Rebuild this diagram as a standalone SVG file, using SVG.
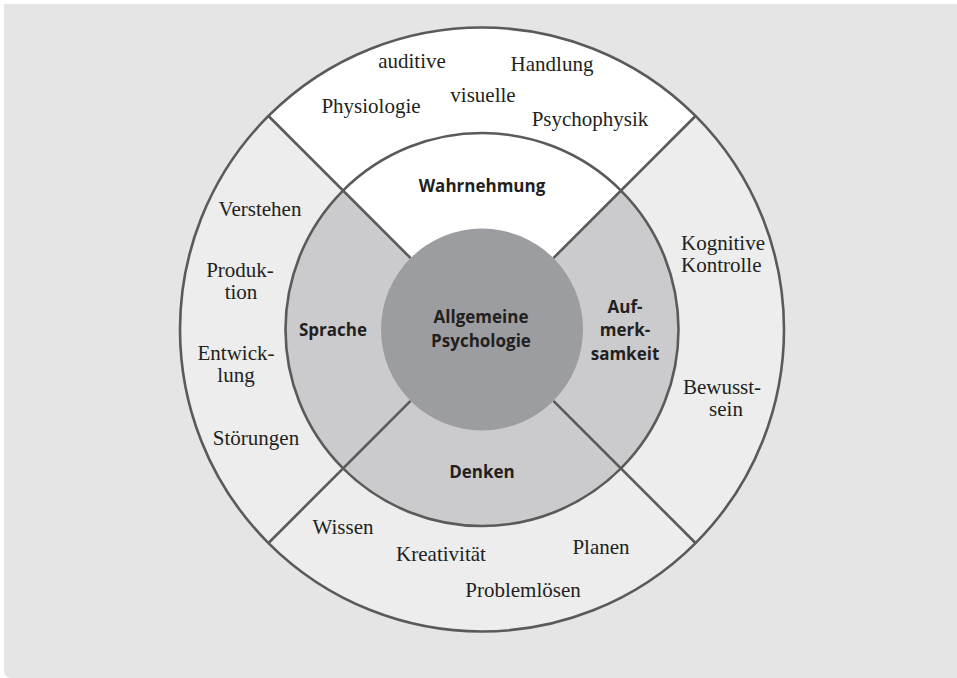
<svg xmlns="http://www.w3.org/2000/svg" width="957" height="678" viewBox="0 0 957 678">
<style>
.s{font-family:"Liberation Serif","Times New Roman",serif;font-size:21px;fill:#231f20;text-anchor:middle}
.sl{text-anchor:start}
.b{font-family:"Open Sans","Noto Sans",sans-serif;font-weight:700;font-size:17px;fill:#231f20;text-anchor:middle}
.ln{stroke:#5a5a5a;stroke-width:2.6;fill:none}
</style>
<rect x="0" y="0" width="957" height="678" fill="#ffffff"/>
<path d="M4 4 H957 V678 H12 Q4 678 4 670 Z" fill="#e5e5e5"/>
<g id="outer-ring">
<circle cx="482" cy="329.5" r="302" fill="#ecedec"/>
</g>
<g id="outer-top">
<path d="M482 329.5 L268.5 116 A302 302 0 0 1 695.5 116 Z" fill="#ffffff"/>
<text class="s" x="412" y="68">auditive</text>
<text class="s" x="552" y="71">Handlung</text>
<text class="s" x="371" y="113">Physiologie</text>
<text class="s" x="483" y="102">visuelle</text>
<text class="s" x="590" y="126">Psychophysik</text>
</g>
<g id="outer-left">
<text class="s" x="260" y="216">Verstehen</text>
<text class="s" x="240" y="276.5">Produk-</text>
<text class="s" x="241" y="298.5">tion</text>
<text class="s" x="236" y="360">Entwick-</text>
<text class="s" x="236" y="382">lung</text>
<text class="s" x="256" y="445">Störungen</text>
</g>
<g id="outer-right">
<text class="s sl" x="681" y="250">Kognitive</text>
<text class="s sl" x="681" y="272">Kontrolle</text>
<text class="s" x="722" y="394">Bewusst-</text>
<text class="s" x="726" y="416">sein</text>
</g>
<g id="outer-bottom">
<text class="s" x="343" y="534">Wissen</text>
<text class="s" x="441" y="561">Kreativität</text>
<text class="s" x="601" y="554">Planen</text>
<text class="s" x="523" y="597">Problemlösen</text>
</g>
<g id="middle-ring">
<circle cx="482" cy="329.5" r="196.5" fill="#cbcbcd"/>
</g>
<g id="wahrnehmung">
<path d="M482 329.5 L343.1 190.6 A196.5 196.5 0 0 1 620.9 190.6 Z" fill="#ffffff"/>
<text class="b" x="482" y="192">Wahrnehmung</text>
</g>
<g id="sprache">
<text class="b" x="333" y="336">Sprache</text>
</g>
<g id="aufmerksamkeit">
<text class="b" x="625" y="313">Auf-</text>
<text class="b" x="625" y="336">merk-</text>
<text class="b" x="625" y="360">samkeit</text>
</g>
<g id="denken">
<text class="b" x="482" y="478">Denken</text>
</g>
<g id="connectors">
<circle class="ln" cx="482" cy="329.5" r="302"/>
<circle class="ln" cx="482" cy="329.5" r="196.5"/>
<line class="ln" x1="268.5" y1="116" x2="410.6" y2="258.1"/>
<line class="ln" x1="695.5" y1="116" x2="553.4" y2="258.1"/>
<line class="ln" x1="268.5" y1="543" x2="410.6" y2="400.9"/>
<line class="ln" x1="695.5" y1="543" x2="553.4" y2="400.9"/>
</g>
<g id="center">
<circle cx="482" cy="329.5" r="101" fill="#9c9da0"/>
<text class="b" x="481" y="323">Allgemeine</text>
<text class="b" x="481" y="347">Psychologie</text>
</g>
</svg>
